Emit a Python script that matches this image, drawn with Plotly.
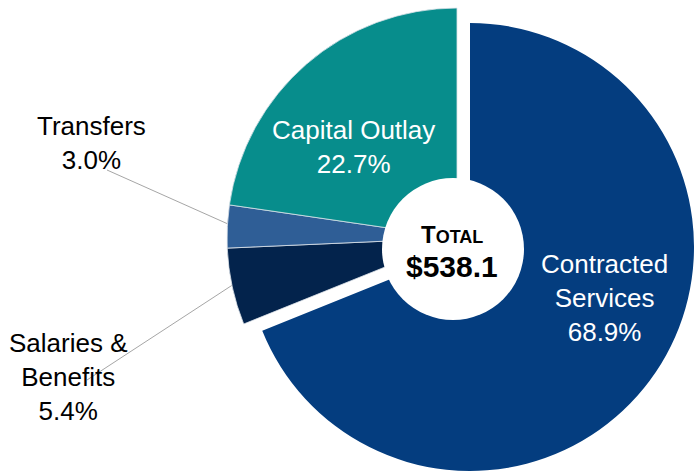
import plotly.graph_objects as go

# ---- data ----
categories = ["Contracted Services", "Salaries & Benefits", "Transfers", "Capital Outlay"]
label_lines = ["Contracted<br>Services", "Salaries &<br>Benefits", "Transfers", "Capital Outlay"]
shares = [68.9, 5.4, 3.0, 22.7]          # percent of total
total_musd = 538.1
colors = ["#043D7F", "#03234C", "#2F5E96", "#078D8C"]

W, H = 694, 476
CLEAR = "rgba(0,0,0,0)"


def dom(cx, cy, r):
    return dict(x=[(cx - r) / W, (cx + r) / W], y=[1 - (cy + r) / H, 1 - (cy - r) / H])


def px(x, y):
    return x / W, 1 - y / H


fig = go.Figure()

# base pie: all slices except the exploded one
fig.add_trace(go.Pie(
    labels=categories, values=shares, sort=False, direction="clockwise", rotation=0,
    hole=0.2, textinfo="none", hoverinfo="skip", showlegend=False,
    marker=dict(colors=[CLEAR] + colors[1:],
                line=dict(color=["rgba(255,255,255,0)", "#DDE3EA", "#DDE3EA", "#DDE3EA"], width=0.8)),
    domain=dom(457, 238, 230),
))
# exploded slice (Contracted Services)
fig.add_trace(go.Pie(
    labels=categories, values=shares, sort=False, direction="clockwise", rotation=0,
    hole=0.2, textinfo="none", hoverinfo="skip", showlegend=False,
    marker=dict(colors=[colors[0], CLEAR, CLEAR, CLEAR],
                line=dict(color=CLEAR, width=0)),
    domain=dom(470, 247, 224),
))

# white centre circle
cx0, cy0 = px(382, 178)
cx1, cy1 = px(524, 320)
fig.add_shape(type="circle", xref="paper", yref="paper", x0=cx0, y0=cy1, x1=cx1, y1=cy0,
              fillcolor="white", line=dict(width=0), layer="above")

# leader lines
for (x0, y0, x1, y1) in [(107, 170, 228, 224), (87, 380, 234, 284)]:
    a, b = px(x0, y0)
    c, d = px(x1, y1)
    fig.add_shape(type="line", xref="paper", yref="paper", x0=a, y0=b, x1=c, y1=d,
                  line=dict(color="#A6A6A6", width=1), layer="below")

FONT = "Liberation Sans, Arial, sans-serif"
label_pos = {
    "Contracted Services": (604, 298, "white"),
    "Salaries & Benefits": (68, 377, "black"),
    "Transfers": (91, 143, "black"),
    "Capital Outlay": (354, 147, "white"),
}
for name, lines, s in zip(categories, label_lines, shares):
    x, y, col = label_pos[name]
    ax, ay = px(x, y)
    fig.add_annotation(x=ax, y=ay, xref="paper", yref="paper", showarrow=False,
                       xanchor="center", yanchor="middle",
                       text=f"{lines}<br>{s:.1f}%", align="center",
                       font=dict(family=FONT, size=26, color=col))

ax, ay = px(452, 234)
fig.add_annotation(x=ax, y=ay, xref="paper", yref="paper", showarrow=False,
                   xanchor="center", yanchor="middle",
                   text="<b>T<span style='font-size:18px'>OTAL</span></b>",
                   font=dict(family="Liberation Sans, Arial", size=24, color="black"))
ax, ay = px(452, 266)
fig.add_annotation(x=ax, y=ay, xref="paper", yref="paper", showarrow=False,
                   xanchor="center", yanchor="middle",
                   text=f"<b>${total_musd:.1f}</b>",
                   font=dict(family="Liberation Sans, Arial", size=30, color="black"))

fig.update_layout(width=W, height=H, margin=dict(l=0, r=0, t=0, b=0),
                  paper_bgcolor="white", plot_bgcolor="white")
fig.write_html("out.html", config={"displayModeBar": False},
               post_script="document.body.style.margin='0';document.body.style.overflow='hidden';")
